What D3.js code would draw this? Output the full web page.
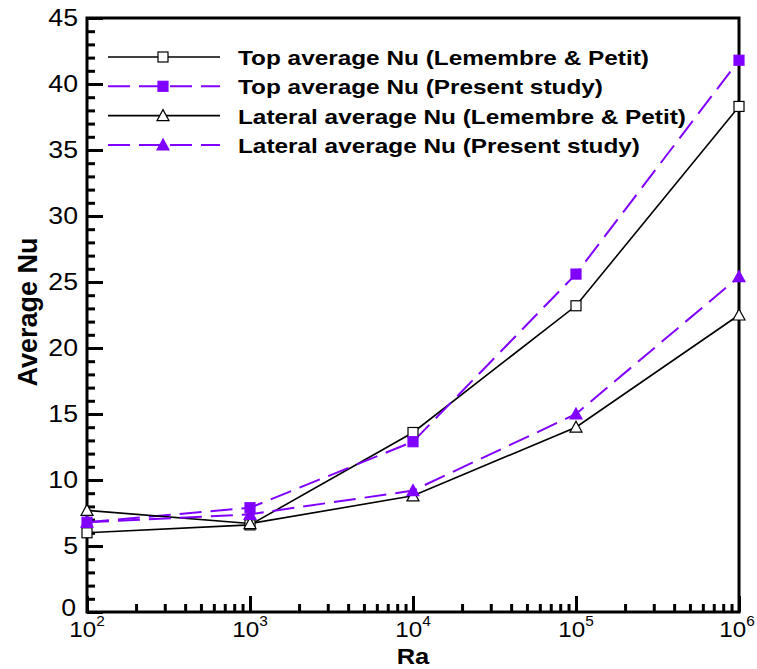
<!DOCTYPE html>
<html><head><meta charset="utf-8">
<script src="https://cdn.jsdelivr.net/npm/d3@7"></script>
<style>body{margin:0;background:#fff}svg{display:block}</style>
</head><body>
<svg id="c" width="757" height="669"></svg>
<script>
const ra = [1e2, 1e3, 1e4, 1e5, 1e6];
const topLemembre = [6.0, 6.6, 13.6, 23.2, 38.3];
const topPresent = [6.8, 7.9, 12.9, 25.6, 41.8];
const latLemembre = [7.7, 6.7, 8.8, 14.0, 22.5];
const latPresent = [6.8, 7.4, 9.2, 15.0, 25.4];
const seriesNames = [
  "Top average Nu (Lemembre & Petit)",
  "Top average Nu (Present study)",
  "Lateral average Nu (Lemembre & Petit)",
  "Lateral average Nu (Present study)"
];
const yTicks = [0, 5, 10, 15, 20, 25, 30, 35, 40, 45];
const xExponents = [2, 3, 4, 5, 6];
const xLabel = "Ra";
const yLabel = "Average Nu";

const purple = "#8000ff";
const series = [
  {name: seriesNames[0], values: topLemembre, color: "#000", dash: null, marker: "square", fill: false},
  {name: seriesNames[1], values: topPresent, color: purple, dash: "22,9", marker: "square", fill: true},
  {name: seriesNames[2], values: latLemembre, color: "#000", dash: null, marker: "triangle", fill: false},
  {name: seriesNames[3], values: latPresent, color: purple, dash: "22,9", marker: "triangle", fill: true}
];

const svg = d3.select("#c");
const L = 87, R = 739, T = 18, B = 612;
const x = d3.scaleLog().domain([1e2, 1e6]).range([L, R]);
const y = d3.scaleLinear().domain([0, 45]).range([B, T]);
const FONT = "Liberation Sans, Arial, Helvetica, sans-serif";
const SX = 1.16;

const yMinor = d3.range(0, 46, 1).filter(v => v % 5 !== 0);
const gy = svg.append("g").attr("transform", `translate(${L},0)`);
gy.call(d3.axisLeft(y).tickValues(yMinor).tickSize(-8).tickFormat("")).call(g => g.select(".domain").remove());
gy.append("g").call(d3.axisLeft(y).tickValues(yTicks).tickSize(-16).tickFormat("")).call(g => g.select(".domain").remove());
gy.selectAll("line").attr("stroke", "#000").attr("stroke-width", 1.5);
gy.selectAll("g g.tick line").attr("stroke-width", 3);

const xMinor = [];
xExponents.slice(0, -1).forEach(e => { for (let k = 2; k <= 9; k++) xMinor.push(k * Math.pow(10, e)); });
const xMajor = xExponents.map(e => Math.pow(10, e));
const gx = svg.append("g").attr("transform", `translate(0,${B})`);
gx.call(d3.axisBottom(x).tickValues(xMinor).tickSize(-8).tickFormat("")).call(g => g.select(".domain").remove());
gx.append("g").call(d3.axisBottom(x).tickValues(xMajor).tickSize(-16).tickFormat("")).call(g => g.select(".domain").remove());
gx.selectAll("line").attr("stroke", "#000").attr("stroke-width", 1.5);
gx.selectAll("g g.tick line").attr("stroke-width", 3);

svg.append("rect").attr("x", L).attr("y", T).attr("width", R - L).attr("height", B - T)
  .attr("fill", "none").attr("stroke", "#000").attr("stroke-width", 3);

svg.append("g").selectAll("text").data(yTicks).join("text")
  .attr("transform", d => `translate(${d === 0 ? 76 : 78},${y(d) + (d === 0 ? 4 : 8)}) scale(${SX},1)`)
  .attr("text-anchor", "end").attr("font-family", FONT).attr("font-size", 23)
  .text(d => d);

const xl = svg.append("g").selectAll("text").data(xExponents).join("text")
  .attr("transform", e => `translate(${x(Math.pow(10, e)) - (e === 6 ? 2 : 0)},637) scale(1.1,1)`)
  .attr("text-anchor", "middle").attr("font-family", FONT).attr("font-size", 22);
xl.append("tspan").text("10");
xl.append("tspan").attr("font-size", 14).attr("dy", -11).text(e => e);

svg.append("text").attr("transform", `translate(413,664) scale(${SX},1)`)
  .attr("text-anchor", "middle").attr("font-family", FONT).attr("font-weight", "bold").attr("font-size", 22)
  .text(xLabel);
svg.append("text").attr("transform", `translate(37,312) rotate(-90)`)
  .attr("text-anchor", "middle").attr("font-family", FONT).attr("font-weight", "bold").attr("font-size", 27)
  .text(yLabel);

function marker(g, kind, cx, cy, color, fill) {
  if (kind === "square") {
    g.append("rect").attr("x", cx - 5).attr("y", cy - 5).attr("width", 10).attr("height", 10)
      .attr("fill", fill ? color : "#fff").attr("stroke", color).attr("stroke-width", 1.2);
  } else {
    g.append("path").attr("d", `M${cx},${cy - 6}L${cx + 6},${cy + 5}L${cx - 6},${cy + 5}Z`)
      .attr("fill", fill ? color : "#fff").attr("stroke", color).attr("stroke-width", 1.2);
  }
}

const line = d3.line().x((d, i) => x(ra[i])).y(d => y(d));
const plot = svg.append("g");
series.forEach(s => {
  plot.append("path").datum(s.values).attr("d", line).attr("fill", "none")
    .attr("stroke", s.color).attr("stroke-width", s.dash ? 2 : 1.6)
    .attr("stroke-dasharray", s.dash);
});
series.forEach(s => {
  const g = plot.append("g");
  s.values.forEach((v, i) => marker(g, s.marker, x(ra[i]), y(v), s.color, s.fill));
});

const lg = svg.append("g");
series.forEach((s, i) => {
  const yy = 57 + i * 29.3;
  lg.append("line").attr("x1", 108).attr("x2", 220).attr("y1", yy).attr("y2", yy)
    .attr("stroke", s.color).attr("stroke-width", s.dash ? 2 : 1.6).attr("stroke-dasharray", s.dash);
  marker(lg, s.marker, 163, yy, s.color, s.fill);
  lg.append("text").attr("transform", `translate(238,${yy + 8}) scale(${SX},1)`)
    .attr("font-family", FONT).attr("font-weight", "bold").attr("font-size", 21)
    .text(s.name);
});
</script>
</body></html>
